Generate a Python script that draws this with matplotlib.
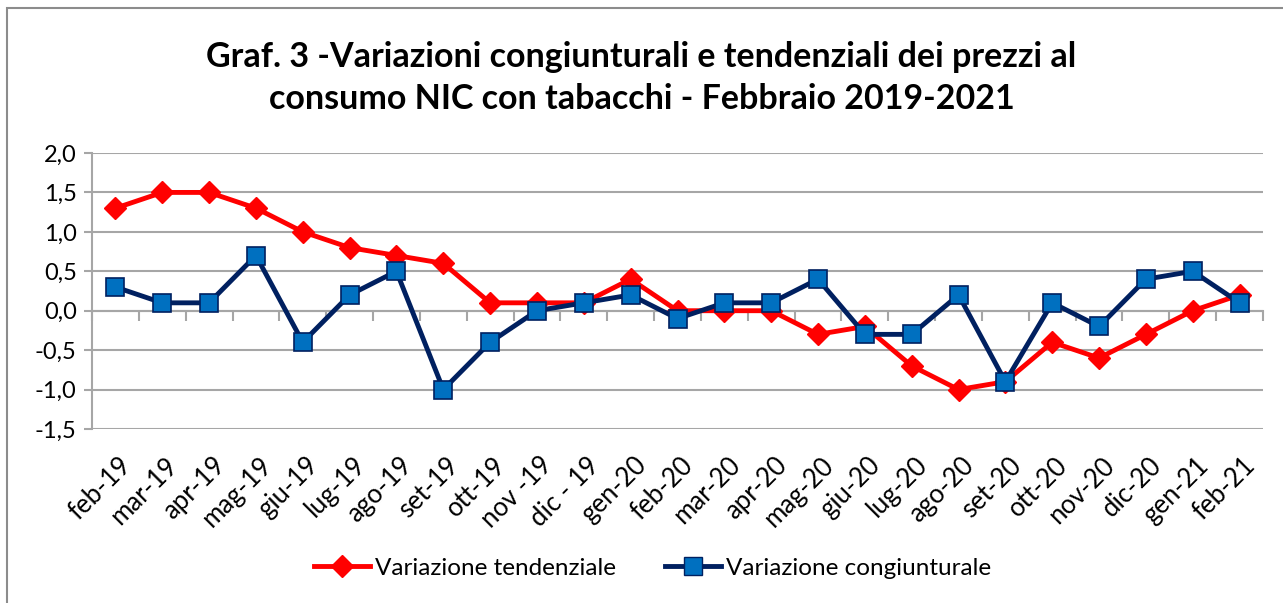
import numpy as np
import matplotlib
matplotlib.use("Agg")
import matplotlib.pyplot as plt
from matplotlib.lines import Line2D
from matplotlib.patches import Rectangle
from matplotlib.ticker import FuncFormatter
import matplotlib.transforms as mtransforms

plt.rcParams["font.family"] = ["Lato", "DejaVu Sans"]

# dati
months = ["feb-19", "mar-19", "apr-19", "mag-19", "giu-19", "lug-19", "ago-19",
          "set-19", "ott-19", "nov -19", "dic - 19", "gen-20", "feb-20", "mar-20",
          "apr-20", "mag-20", "giu-20", "lug-20", "ago-20", "set-20", "ott-20",
          "nov-20", "dic-20", "gen-21", "feb-21"]
tendenziale = [1.3, 1.5, 1.5, 1.3, 1.0, 0.8, 0.7, 0.6, 0.1, 0.1, 0.1, 0.4, 0.0,
               0.0, 0.0, -0.3, -0.2, -0.7, -1.0, -0.9, -0.4, -0.6, -0.3, 0.0, 0.2]
congiunturale = [0.3, 0.1, 0.1, 0.7, -0.4, 0.2, 0.5, -1.0, -0.4, 0.0, 0.1, 0.2,
                 -0.1, 0.1, 0.1, 0.4, -0.3, -0.3, 0.2, -0.9, 0.1, -0.2, 0.4, 0.5, 0.1]
yticks = [-1.5, -1.0, -0.5, 0.0, 0.5, 1.0, 1.5, 2.0]
title = "Graf. 3 -Variazioni congiunturali e tendenziali dei prezzi al\nconsumo NIC con tabacchi - Febbraio 2019-2021"

grid_col = "#a6a6a6"
red = "#ff0000"
navy = "#002060"
blue = "#0070c0"

fig = plt.figure(figsize=(12.83, 6.03), dpi=100)
ax = fig.add_axes([92 / 1283, 1 - 429 / 603, (1263 - 92) / 1283, (429 - 153) / 603])

# bordo del grafico (visibile solo a sinistra e in alto)
fig.patches.append(Rectangle((7 / 1283, -0.1), 1.2, 1.1 - 8 / 603, transform=fig.transFigure,
                             fill=False, edgecolor="#8c8c8c", linewidth=1.5, zorder=0))

x = np.arange(len(months))
ax.plot(x, tendenziale, color=red, linewidth=3.5, marker="D", markersize=11,
        markerfacecolor=red, markeredgecolor=red, zorder=3, label="Variazione tendenziale")
ax.plot(x, congiunturale, color=navy, linewidth=3.5, marker="s", markersize=13.5,
        markerfacecolor=blue, markeredgecolor=navy, markeredgewidth=1.2, zorder=4,
        label="Variazione congiunturale")

ax.set_xlim(-0.5, len(months) - 0.5)
ax.set_ylim(-1.5, 2.0)
ax.set_yticks(yticks)
ax.yaxis.set_major_formatter(FuncFormatter(lambda v, p: f"{v:.1f}".replace(".", ",")))
ax.grid(axis="y", color=grid_col, linewidth=1.5)
ax.set_axisbelow(True)

for s in ["top", "right", "bottom"]:
    ax.spines[s].set_visible(False)
ax.spines["left"].set_color(grid_col)
ax.spines["left"].set_linewidth(1.5)
ax.tick_params(axis="y", length=6, width=1.5, color=grid_col, labelsize=17, pad=5)

ax.set_xticks(x)
ax.set_xticklabels(months, rotation=45, ha="right", rotation_mode="anchor", fontsize=18.5)
ax.tick_params(axis="x", length=0, pad=17)
offset = mtransforms.ScaledTranslation(3 / 100, 0, fig.dpi_scale_trans)
for lab in ax.get_xticklabels():
    lab.set_transform(lab.get_transform() + offset)

# asse delle categorie sullo zero
zero = ax.secondary_xaxis(1.5 / 3.5)
zero.set_xticks(np.arange(-0.5, len(months), 1.0))
zero.set_xticklabels([])
zero.spines["bottom"].set_color(grid_col)
zero.spines["bottom"].set_linewidth(1.5)
zero.tick_params(axis="x", length=7, width=1.5, color=grid_col, direction="out")

fig.text(0.5, 1 - 78 / 603, title, ha="center", va="center", fontsize=24.5,
         fontweight="bold", linespacing=1.35)

handles = [
    Line2D([], [], color=red, linewidth=3.5, marker="D", markersize=11, markerfacecolor=red),
    Line2D([], [], color=navy, linewidth=3.5, marker="s", markersize=13.5,
           markerfacecolor=blue, markeredgecolor=navy),
]
fig.legend(handles, ["Variazione tendenziale", "Variazione congiunturale"],
           loc="center", bbox_to_anchor=(0.5086, 1 - 568 / 603), ncol=2, frameon=False,
           fontsize=17.5, handlelength=2.3, handletextpad=0.2, columnspacing=2.0)

fig.savefig("out.png", dpi=100)
